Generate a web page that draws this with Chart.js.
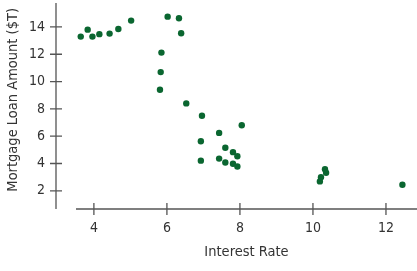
<!DOCTYPE html>
<html>
<head>
<meta charset="utf-8">
<script src="https://cdn.jsdelivr.net/npm/chart.js@4/dist/chart.umd.min.js"></script>
<style>
  html, body { margin: 0; padding: 0; background: #fff; }
  #wrap { width: 417px; height: 271px; }
</style>
</head>
<body>
<div id="wrap"><canvas id="chart"></canvas></div>
<script>
// interest rate (%) and mortgage loan amount ($T)
const rates = [
  3.64, 3.83, 3.96, 4.15, 4.43, 4.67, 5.02, 6.02, 6.33, 6.39,
  5.85, 5.83, 5.81, 6.53, 6.96, 8.05, 7.43, 6.93, 7.60, 7.81,
  7.93, 6.93, 7.43, 7.60, 7.81, 7.93, 10.19, 10.22, 10.33, 10.36,
  12.45
];
const loans = [
  13.29, 13.80, 13.29, 13.47, 13.51, 13.85, 14.46, 14.75, 14.63, 13.54,
  12.12, 10.69, 9.40, 8.40, 7.50, 6.80, 6.24, 5.63, 5.15, 4.83,
  4.53, 4.21, 4.36, 4.07, 3.98, 3.78, 2.69, 3.00, 3.58, 3.32,
  2.45
];
const xTicks = [4, 6, 8, 10, 12];
const yTicks = [2, 4, 6, 8, 10, 12, 14];

const font = '"DejaVu Sans Condensed", "Liberation Sans", sans-serif';
const textColor = '#333';
const axisColor = '#555';

// axes drawn by hand: y line sits left of the plot area, ticks cross the lines
const axesPlugin = {
  id: 'crossAxes',
  afterDraw(chart) {
    const ctx = chart.ctx;
    const area = chart.chartArea;
    const xs = chart.scales.x;
    const ys = chart.scales.y;
    const yLineX = area.left - 20;
    ctx.save();
    ctx.strokeStyle = axisColor;
    ctx.lineWidth = 1.3;
    ctx.beginPath();
    ctx.moveTo(yLineX, area.top);
    ctx.lineTo(yLineX, area.bottom);
    ctx.moveTo(area.left, area.bottom);
    ctx.lineTo(area.right, area.bottom);
    yTicks.forEach(v => {
      const py = ys.getPixelForValue(v);
      ctx.moveTo(yLineX - 6, py);
      ctx.lineTo(yLineX + 6, py);
    });
    xTicks.forEach(v => {
      const px = xs.getPixelForValue(v);
      ctx.moveTo(px, area.bottom - 6);
      ctx.lineTo(px, area.bottom + 6);
    });
    ctx.stroke();
    ctx.restore();
  }
};

new Chart(document.getElementById('chart'), {
  type: 'scatter',
  data: {
    datasets: [{
      data: rates.map((r, i) => ({ x: r, y: loans[i] })),
      backgroundColor: '#0a6630',
      borderColor: '#0a6630',
      borderWidth: 0,
      pointRadius: 3.2
    }]
  },
  options: {
    responsive: true,
    maintainAspectRatio: false,
    animation: false,
    layout: { autoPadding: false, padding: { top: 3, right: 0, left: 0, bottom: 0 } },
    plugins: {
      legend: { display: false },
      tooltip: { enabled: false }
    },
    scales: {
      x: {
        type: 'linear',
        min: 3.51,
        max: 12.85,
        afterBuildTicks: s => { s.ticks = xTicks.map(v => ({ value: v })); },
        afterFit: s => { s.height = 62; s.paddingLeft = 0; s.paddingRight = 0; },
        grid: { display: false },
        border: { display: false },
        ticks: { color: textColor, font: { family: font, size: 14 }, padding: 3, maxRotation: 0 },
        title: {
          display: true,
          text: 'Interest Rate',
          color: textColor,
          font: { family: font, size: 14.5 },
          padding: { top: 0, bottom: 9.6 }
        }
      },
      y: {
        type: 'linear',
        min: 0.67,
        max: 15.75,
        afterBuildTicks: s => { s.ticks = yTicks.map(v => ({ value: v })); },
        afterFit: s => { s.width = 76; s.paddingTop = 0; s.paddingBottom = 0; },
        grid: { display: false },
        border: { display: false },
        ticks: { color: textColor, font: { family: font, size: 14 }, padding: 23 },
        title: {
          display: true,
          text: '   Mortgage Loan Amount ($T)',
          color: textColor,
          font: { family: font, size: 14.5 },
          padding: { top: 5, bottom: 0 }
        }
      }
    }
  },
  plugins: [axesPlugin]
});
</script>
</body>
</html>
